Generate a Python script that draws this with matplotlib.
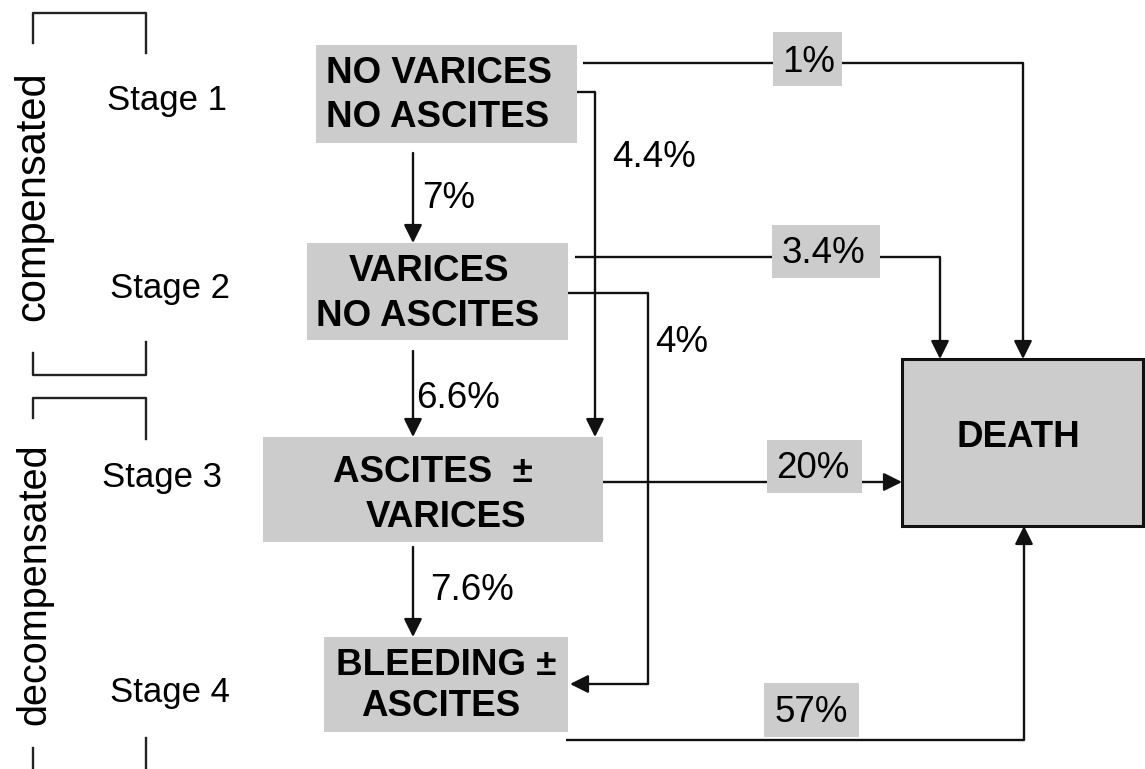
import matplotlib
matplotlib.use('Agg')
from matplotlib import pyplot as plt
from matplotlib.patches import Rectangle

plt.rcParams['font.family'] = ['Liberation Sans', 'DejaVu Sans']

# --- content ---
stages = ['Stage 1', 'Stage 2', 'Stage 3', 'Stage 4']
phases = ['compensated', 'decompensated']
states = [['NO VARICES', 'NO ASCITES'],
          ['VARICES', 'NO ASCITES'],
          ['ASCITES  ±', 'VARICES'],
          ['BLEEDING ±', 'ASCITES']]
outcome = 'DEATH'
progression = ['7%', '6.6%', '7.6%']      # stage n -> n+1
skip = ['4.4%', '4%']                     # stage n -> n+2
mortality = ['1%', '3.4%', '20%', '57%']  # stage n -> death

# --- layout (pixels, origin top-left) ---
GRAY = '#cccccc'
INK = '#111111'
LW = 1.7
FS = 26.5
FS_STAGE = 25

state_boxes = [(316, 45, 577, 143), (307, 243, 568, 340),
               (263, 437, 603, 542), (324, 637, 568, 732)]
state_text = [[(439, 83), (438, 127)], [(429, 281), (428, 326)],
              [(433, 482), (446, 527)], [(446, 675), (441, 716)]]
death_box = (902, 359, 1143, 526)
stage_pos = [(167, 110), (170, 298), (162, 487), (170, 702)]
phase_pos = [(33, 196, 30), (34, 584, 28.5)]

prog_x = 413
prog_y = [(153, 243), (351, 437), (547, 637)]
prog_lbl = [(449, 208), (458, 408), (472, 600)]

skip_paths = [[(577, 92), (595, 92), (595, 437)],
              [(568, 293), (648, 293), (648, 684), (570, 684)]]
skip_lbl = [(654, 167), (682, 352)]

mort_paths = [[(583, 63), (1023, 63), (1023, 359)],
              [(575, 257), (940, 257), (940, 359)],
              [(603, 482), (902, 482)],
              [(566, 740), (1024, 740), (1024, 526)]]
mort_boxes = [(773, 32, 842, 86), (772, 225, 880, 278),
              (767, 440, 862, 493), (764, 683, 859, 737)]
mort_lbl = [(809, 72), (823, 263), (813, 478), (811, 722)]

brackets = [[(33, 43), (33, 13), (146, 13), (146, 53)],
            [(33, 353), (33, 375), (146, 375), (146, 342)],
            [(33, 418), (33, 398), (146, 398), (146, 439)],
            [(33, 748), (33, 769)],
            [(146, 738), (146, 769)]]

fig = plt.figure(figsize=(11.45, 7.69), dpi=100)
ax = fig.add_axes([0, 0, 1, 1])
ax.set_xlim(0, 1145)
ax.set_ylim(769, 0)
ax.axis('off')


def rect(b, **kw):
    x0, y0, x1, y1 = b
    ax.add_patch(Rectangle((x0, y0), x1 - x0, y1 - y0, **kw))


def connector(pts):
    xs = [p[0] for p in pts[:-1]]
    ys = [p[1] for p in pts[:-1]]
    if len(pts) > 2:
        ax.plot(xs, ys, color=INK, lw=LW, zorder=1, solid_capstyle='butt')
    ax.annotate('', xy=pts[-1], xytext=pts[-2],
                arrowprops=dict(arrowstyle='-|>,head_length=1.1,head_width=0.55',
                                mutation_scale=10, color=INK, lw=LW,
                                shrinkA=0, shrinkB=0), zorder=1)


# brackets and phase labels
for b in brackets:
    ax.plot([p[0] for p in b], [p[1] for p in b], color='#222222', lw=LW)
for name, (x, y, s) in zip(phases, phase_pos):
    ax.text(x, y, name, rotation=90, ha='center', va='center', fontsize=s)

for name, (x, y) in zip(stages, stage_pos):
    ax.text(x, y, name, ha='center', va='baseline', fontsize=FS_STAGE)

# state boxes
for b, lines, pos in zip(state_boxes, states, state_text):
    rect(b, facecolor=GRAY, edgecolor='none', zorder=2)
    for t, (x, y) in zip(lines, pos):
        ax.text(x, y, t, ha='center', va='baseline', fontsize=FS,
                fontweight='bold', zorder=3)

rect(death_box, facecolor=GRAY, edgecolor=INK, lw=2.2, zorder=2)
ax.text(1018, 447, outcome, ha='center', va='baseline', fontsize=FS,
        fontweight='bold', zorder=3)

# progression arrows
for lbl, (y0, y1), (tx, ty) in zip(progression, prog_y, prog_lbl):
    connector([(prog_x, y0), (prog_x, y1)])
    ax.text(tx, ty, lbl, ha='center', va='baseline', fontsize=FS)

# skip arrows
for lbl, path, (tx, ty) in zip(skip, skip_paths, skip_lbl):
    connector(path)
    ax.text(tx, ty, lbl, ha='center', va='baseline', fontsize=FS)

# mortality arrows
for lbl, path, b, (tx, ty) in zip(mortality, mort_paths, mort_boxes, mort_lbl):
    connector(path)
    rect(b, facecolor=GRAY, edgecolor='none', zorder=2)
    ax.text(tx, ty, lbl, ha='center', va='baseline', fontsize=FS, zorder=3)

plt.savefig('out.png', dpi=100)
